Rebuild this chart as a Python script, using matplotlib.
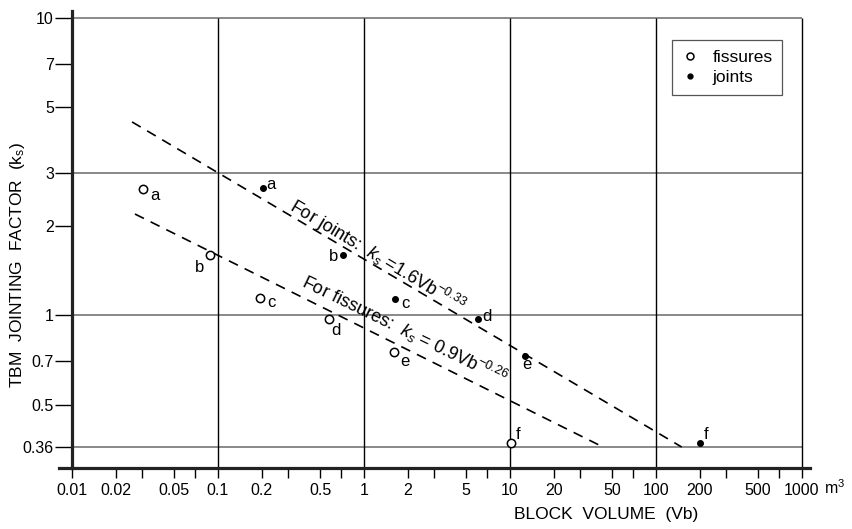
import numpy as np
import matplotlib
matplotlib.use("Agg")
import matplotlib.pyplot as plt
from matplotlib.lines import Line2D

plt.rcParams['font.family'] = ['Liberation Sans', 'DejaVu Sans']
plt.rcParams['mathtext.fontset'] = 'custom'
plt.rcParams['mathtext.rm'] = 'Liberation Sans'
plt.rcParams['mathtext.it'] = 'Liberation Sans:italic'

# data
point_labels = ['a', 'b', 'c', 'd', 'e', 'f']
fissures_vb = [0.0306, 0.088, 0.194, 0.575, 1.6, 10.2]
fissures_ks = [2.655, 1.6, 1.14, 0.97, 0.75, 0.371]
joints_vb = [0.203, 0.718, 1.63, 6.0, 12.6, 200]
joints_ks = [2.67, 1.6, 1.13, 0.97, 0.728, 0.371]

# trend lines (end points)
joints_line_vb = [0.0258, 150]
joints_line_ks = [4.47, 0.36]
fissures_line_vb = [0.027, 43.4]
fissures_line_ks = [2.19, 0.36]

x_ticks = [0.01, 0.02, 0.05, 0.1, 0.2, 0.5, 1, 2, 5, 10, 20, 50, 100, 200, 500, 1000]
x_ticklabels = ['0.01', '0.02', '0.05', '0.1', '0.2', '0.5', '1', '2', '5', '10', '20', '50', '100', '200', '500', '1000']
x_minor = [0.03, 0.07, 0.3, 0.7, 3, 7, 30, 70, 300, 700]
y_ticks = [0.36, 0.5, 0.7, 1, 2, 3, 5, 7, 10]
y_ticklabels = ['0.36', '0.5', '0.7', '1', '2', '3', '5', '7', '10']
x_grid = [0.1, 1, 10, 100, 1000]
y_grid = [0.36, 1, 3, 10]

# label offsets in pixels (dx, dy)
fis_off = [(12, -6), (-10, -13), (11, -4), (7, -11), (11, -9), (7, 9)]
joi_off = [(8, 4), (-9, -2), (10, -4), (9, 3), (2, -8), (6, 9)]

W, H = 852, 529
fig = plt.figure(figsize=(W / 100, H / 100), dpi=100)
x0, x1, ytop, ybot = 58.6, 809.8, 10.5, 468
ax = fig.add_axes([x0 / W, 1 - ybot / H, (x1 - x0) / W, (ybot - ytop) / H])
ax.set_xscale('log')
ax.set_yscale('log')
ax.set_xlim(0.0081, 1131)
ax.set_ylim(0.306, 10.6)

for s in ['top', 'right']:
    ax.spines[s].set_visible(False)
ax.spines['left'].set_position(('data', 0.01))
ax.spines['left'].set_linewidth(2.3)
ax.spines['bottom'].set_linewidth(2.3)
ax.spines['left'].set_color('#222222')
ax.spines['bottom'].set_color('#222222')

ax.hlines(y_grid, 0.01, 1000, colors='#808080', lw=1.3, zorder=1)
ax.vlines(x_grid, 0.306, 10, colors='black', lw=1.0, zorder=1)

ax.set_xticks(x_ticks)
ax.set_xticklabels(x_ticklabels)
ax.set_xticks(x_minor, minor=True)
ax.xaxis.set_minor_formatter(plt.NullFormatter())
ax.set_yticks(y_ticks)
ax.set_yticklabels(y_ticklabels)
ax.yaxis.set_minor_locator(plt.NullLocator())
ax.tick_params(axis='x', which='both', direction='out', length=7, width=1, labelsize=11.5, pad=4)
ax.tick_params(axis='y', direction='out', length=12, width=1, labelsize=11.5, pad=1)

ax.plot(joints_line_vb, joints_line_ks, color='black', lw=1.2, dashes=(6, 4.5))
ax.plot(fissures_line_vb, fissures_line_ks, color='black', lw=1.2, dashes=(6, 4.5))

ax.plot(fissures_vb, fissures_ks, 'o', mfc='white', mec='black', ms=6, mew=1.1, ls='none', zorder=3)
ax.plot(joints_vb, joints_ks, 'o', color='black', ms=4, ls='none', zorder=3)

for lab, x, y, (dx, dy) in zip(point_labels, fissures_vb, fissures_ks, fis_off):
    ax.annotate(lab, (x, y), xytext=(dx, dy), textcoords='offset pixels',
                ha='center', va='center', fontsize=12)
for lab, x, y, (dx, dy) in zip(point_labels, joints_vb, joints_ks, joi_off):
    ax.annotate(lab, (x, y), xytext=(dx, dy), textcoords='offset pixels',
                ha='center', va='center', fontsize=12)

ax.text(0.301, 2.27, r"For joints:  $k_{s}$ =1.6Vb$^{\mathit{-0.33}}$", rotation=-31,
        rotation_mode='anchor', ha='left', va='baseline', fontsize=13)
ax.text(0.365, 1.246, r"For fissures:  $k_{s}$ = 0.9Vb$^{\mathit{-0.26}}$", rotation=-26,
        rotation_mode='anchor', ha='left', va='baseline', fontsize=13)

handles = [Line2D([], [], marker='o', mfc='white', mec='black', ms=5, mew=1.1, ls='none'),
           Line2D([], [], marker='o', color='black', ms=3.5, ls='none')]
leg = ax.legend(handles, ['fissures', 'joints'], loc='upper left',
                bbox_to_anchor=(672 / W, 1 - 40 / H), bbox_transform=fig.transFigure,
                fancybox=False, framealpha=1, edgecolor='#555555', fontsize=12.5,
                handlelength=1.0, handletextpad=0.8, borderpad=0.55, borderaxespad=0,
                labelspacing=0.3)
leg.get_frame().set_linewidth(0.9)

fig.text(606 / W, 1 - 515 / H, "BLOCK  VOLUME  (Vb)", ha='center', va='center', fontsize=12.5)
fig.text(18 / W, 1 - 265 / H, r"TBM  JOINTING  FACTOR  (k$_{\mathrm{s}}$)", rotation=90,
         ha='center', va='center', fontsize=12.5)
fig.text(824 / W, 1 - 488 / H, r"m$^3$", ha='left', va='center', fontsize=11.5)

fig.savefig("out.png", dpi=100)
